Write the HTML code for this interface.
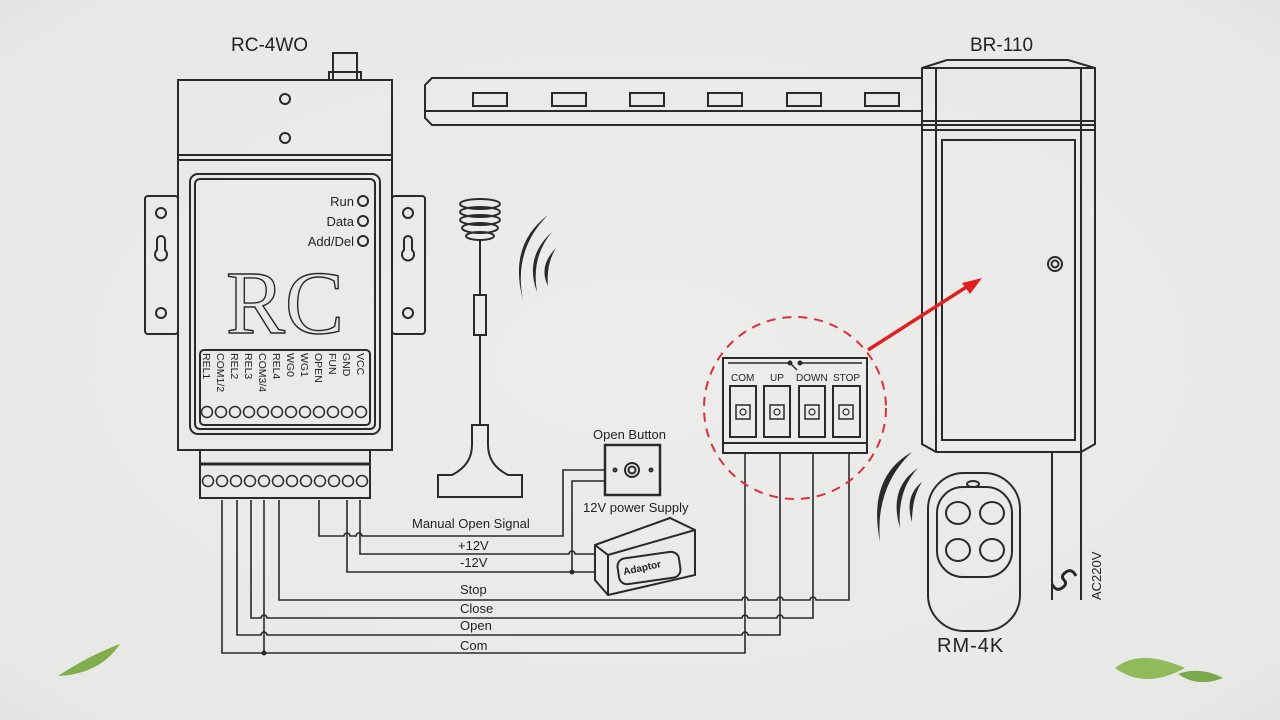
<!DOCTYPE html>
<html><head><meta charset="utf-8"><style>
html,body{margin:0;padding:0;background:#e9e9e7;}
svg{display:block;font-family:"Liberation Sans",Arial,sans-serif;}
</style></head><body>
<svg width="1280" height="720" viewBox="0 0 1280 720" xmlns="http://www.w3.org/2000/svg">
<defs>
<radialGradient id="bg" cx="50%" cy="50%" r="80%">
<stop offset="0" stop-color="#ececea"/><stop offset="0.8" stop-color="#e8e8e6"/><stop offset="1" stop-color="#dcdcda"/>
</radialGradient>
</defs>
<rect width="1280" height="720" fill="url(#bg)"/>
<g fill="none" stroke="#2a2a2a" stroke-width="2">
<rect x="333" y="53" width="24" height="27"/>
<rect x="329" y="72" width="32" height="8"/>
<rect x="178" y="80" width="214" height="75"/>
<line x1="178" y1="160" x2="392" y2="160"/>
<rect x="178" y="155" width="214" height="295"/>
<rect x="145" y="196" width="33" height="138" rx="3"/>
<rect x="392" y="196" width="33" height="138" rx="3"/>
<circle cx="161" cy="213" r="5"/><circle cx="161" cy="313" r="5"/>
<circle cx="408" cy="213" r="5"/><circle cx="408" cy="313" r="5"/>
<path d="M157 240 a4 4 0 0 1 8 0 v10 a6 6 0 1 1 -8 0z"/>
<path d="M404 240 a4 4 0 0 1 8 0 v10 a6 6 0 1 1 -8 0z"/>
<rect x="190" y="174" width="190" height="260" rx="8"/>
<rect x="195" y="179" width="180" height="250" rx="5"/>
<rect x="200" y="350" width="170" height="75" rx="4"/>
<rect x="200" y="450" width="170" height="48"/>
<line x1="200" y1="464" x2="370" y2="464" stroke-width="3"/>
<circle cx="285" cy="99" r="5"/><circle cx="285" cy="138" r="5"/>
<circle cx="363" cy="201" r="5"/><circle cx="363" cy="221" r="5"/><circle cx="363" cy="241" r="5"/>
<g stroke-width="1.5">
<circle cx="207" cy="412" r="5.5"/><circle cx="221" cy="412" r="5.5"/><circle cx="235" cy="412" r="5.5"/><circle cx="249" cy="412" r="5.5"/><circle cx="263" cy="412" r="5.5"/><circle cx="277" cy="412" r="5.5"/><circle cx="291" cy="412" r="5.5"/><circle cx="305" cy="412" r="5.5"/><circle cx="319" cy="412" r="5.5"/><circle cx="333" cy="412" r="5.5"/><circle cx="347" cy="412" r="5.5"/><circle cx="361" cy="412" r="5.5"/>
<circle cx="208" cy="481" r="5.5"/><circle cx="222" cy="481" r="5.5"/><circle cx="236" cy="481" r="5.5"/><circle cx="250" cy="481" r="5.5"/><circle cx="264" cy="481" r="5.5"/><circle cx="278" cy="481" r="5.5"/><circle cx="292" cy="481" r="5.5"/><circle cx="306" cy="481" r="5.5"/><circle cx="320" cy="481" r="5.5"/><circle cx="334" cy="481" r="5.5"/><circle cx="348" cy="481" r="5.5"/><circle cx="362" cy="481" r="5.5"/>
</g>
<ellipse cx="480" cy="204" rx="20" ry="5"/><ellipse cx="480" cy="212" rx="20" ry="5"/><ellipse cx="480" cy="220" rx="20" ry="5"/><ellipse cx="480" cy="228" rx="18" ry="5"/><ellipse cx="480" cy="236" rx="14" ry="4"/>
<line x1="480" y1="240" x2="480" y2="295"/>
<rect x="474" y="295" width="12" height="40"/>
<line x1="480" y1="335" x2="480" y2="425"/>
<path d="M472 425 h16 v20 q0 20 20 30 h14 v22 h-84 v-22 h14 q20 -10 20 -30z"/>
<path d="M432 78 H922 V125 H432 L425 118 V85Z"/>
<line x1="425" y1="111" x2="922" y2="111"/>
<rect x="473" y="93" width="34" height="13"/><rect x="552" y="93" width="34" height="13"/><rect x="630" y="93" width="34" height="13"/><rect x="708" y="93" width="34" height="13"/><rect x="787" y="93" width="34" height="13"/><rect x="865" y="93" width="34" height="13"/>
<path d="M922 68 L947 60 H1068 L1095 68 V444 L1081 452 H936 L922 444Z"/>
<line x1="936" y1="68" x2="936" y2="452"/><line x1="1081" y1="68" x2="1081" y2="452"/>
<line x1="922" y1="68" x2="1095" y2="68"/>
<line x1="922" y1="121" x2="1095" y2="121"/><line x1="922" y1="125" x2="1095" y2="125"/><line x1="922" y1="130" x2="1095" y2="130"/>
<rect x="942" y="140" width="133" height="300"/>
<circle cx="1055" cy="264" r="7"/><circle cx="1055" cy="264" r="3.5"/>
<line x1="1052" y1="452" x2="1052" y2="600"/><line x1="1081" y1="452" x2="1081" y2="600"/>
<path d="M1076 576 q-4 -8 -10 -4 q-6 4 -2 8 q4 4 -2 8 q-6 4 -10 -4" stroke-width="3"/>
<rect x="723" y="358" width="144" height="95"/>
<line x1="723" y1="443" x2="867" y2="443"/>
<line x1="728" y1="363" x2="790" y2="363" stroke-width="1.5"/><line x1="800" y1="363" x2="862" y2="363" stroke-width="1.5"/><line x1="790" y1="363" x2="797" y2="370" stroke-width="1.5"/>
<rect x="730" y="386" width="26" height="51"/><rect x="764" y="386" width="26" height="51"/><rect x="799" y="386" width="26" height="51"/><rect x="833" y="386" width="27" height="51"/>
<rect x="736" y="405" width="14" height="14" stroke-width="1.5"/><rect x="770" y="405" width="14" height="14" stroke-width="1.5"/><rect x="805" y="405" width="14" height="14" stroke-width="1.5"/><rect x="839" y="405" width="14" height="14" stroke-width="1.5"/>
<circle cx="743" cy="412" r="3" stroke-width="1.2"/><circle cx="777" cy="412" r="3" stroke-width="1.2"/><circle cx="812" cy="412" r="3" stroke-width="1.2"/><circle cx="846" cy="412" r="3" stroke-width="1.2"/>
<rect x="928" y="473" width="92" height="158" rx="36"/>
<rect x="937" y="487" width="75" height="90" rx="26"/>
<ellipse cx="973" cy="484" rx="6" ry="3"/>
<ellipse cx="958" cy="513" rx="12" ry="11"/><ellipse cx="992" cy="513" rx="12" ry="11"/><ellipse cx="958" cy="550" rx="12" ry="11"/><ellipse cx="992" cy="550" rx="12" ry="11"/>
<rect x="605" y="445" width="55" height="50" stroke-width="2.5"/>
<circle cx="632" cy="470" r="7"/><circle cx="632" cy="470" r="3.5"/><circle cx="615" cy="470" r="1.5"/><circle cx="651" cy="470" r="1.5"/>
<path d="M595 545 L670 518 L695 530 V575 L608 595 L595 580Z"/>
<path d="M595 545 L608 555 L695 530 M608 555 V595"/>
<rect x="618" y="555" width="62" height="26" rx="8" transform="rotate(-8 649 568)"/>
</g>
<g fill="none" stroke="#2a2a2a" stroke-width="1.6">
<path d="M319 500 V536 H344 a3 3 0 0 1 6 0 H356 a3 3 0 0 1 6 0 H563 V470 H605"/>
<path d="M360 500 V554 H569 a3 3 0 0 1 6 0 H595"/>
<path d="M347 500 V572 H595"/>
<path d="M572 572 V481 H605"/>
<path d="M279 500 V600 H742 a3 3 0 0 1 6 0 H777 a3 3 0 0 1 6 0 H810 a3 3 0 0 1 6 0 H849 V453"/>
<path d="M251 500 V618 H261 a3 3 0 0 1 6 0 H742 a3 3 0 0 1 6 0 H777 a3 3 0 0 1 6 0 H813 V453"/>
<path d="M237 500 V635 H261 a3 3 0 0 1 6 0 H742 a3 3 0 0 1 6 0 H780 V453"/>
<path d="M222 500 V653 H745 V453"/>
<path d="M264 500 V653"/>
</g>
<circle cx="264" cy="653" r="2.5" fill="#2a2a2a"/><circle cx="572" cy="572" r="2.5" fill="#2a2a2a"/>
<circle cx="790" cy="363" r="2.5" fill="#2a2a2a"/><circle cx="800" cy="363" r="2.5" fill="#2a2a2a"/>
<g fill="#2a2a2a">
<path d="M548 215 q-40 30 -25 85 q-10 -50 25 -85z"/>
<path d="M552 232 q-28 25 -15 60 q-6 -35 15 -60z"/>
<path d="M556 248 q-18 18 -8 38 q-2 -22 8 -38z"/>
<path d="M912 452 q-45 25 -32 90 q-5 -55 32 -90z"/>
<path d="M918 468 q-30 20 -18 60 q-3 -38 18 -60z"/>
<path d="M922 482 q-18 14 -10 40 q0 -25 10 -40z"/>
</g>
<circle cx="795" cy="408" r="91" fill="none" stroke="#d8323a" stroke-width="2" stroke-dasharray="9 7"/>
<line x1="868" y1="350" x2="968" y2="286" stroke="#e02020" stroke-width="3.5"/>
<path d="M982 278 L962 283 L970 294Z" fill="#e02020"/>
<text x="226" y="330" font-family="Liberation Serif,serif" font-size="82" fill="#e8e8e6" stroke="#2a2a2a" stroke-width="1.3" textLength="118" lengthAdjust="spacingAndGlyphs" transform="translate(0 -30) scale(1 1.1)">RC</text>
<g fill="#222">
<text x="231" y="51" font-size="19">RC-4WO</text>
<text x="970" y="51" font-size="19">BR-110</text>
<text x="937" y="652" font-size="20" letter-spacing="1">RM-4K</text>
<text x="354" y="206" font-size="13" text-anchor="end">Run</text>
<text x="354" y="226" font-size="13" text-anchor="end">Data</text>
<text x="354" y="246" font-size="13" text-anchor="end">Add/Del</text>
<text x="593" y="439" font-size="13">Open Button</text>
<text x="583" y="512" font-size="13">12V power Supply</text>
<text x="412" y="528" font-size="13">Manual Open Signal</text>
<text x="458" y="550" font-size="13">+12V</text>
<text x="460" y="567" font-size="13">-12V</text>
<text x="460" y="594" font-size="13">Stop</text>
<text x="460" y="613" font-size="13">Close</text>
<text x="460" y="630" font-size="13">Open</text>
<text x="460" y="650" font-size="13">Com</text>
<text x="731" y="381" font-size="10">COM</text>
<text x="770" y="381" font-size="10">UP</text>
<text x="796" y="381" font-size="10">DOWN</text>
<text x="833" y="381" font-size="10">STOP</text>
<text font-size="13" transform="translate(1101 600) rotate(-90)">AC220V</text>
<text font-size="10" transform="translate(624 575) rotate(-12)" font-weight="bold">Adaptor</text>
<g font-size="10.5">
<text transform="translate(203 353) rotate(90)">REL1</text>
<text transform="translate(217 353) rotate(90)">COM1/2</text>
<text transform="translate(231 353) rotate(90)">REL2</text>
<text transform="translate(245 353) rotate(90)">REL3</text>
<text transform="translate(259 353) rotate(90)">COM3/4</text>
<text transform="translate(273 353) rotate(90)">REL4</text>
<text transform="translate(287 353) rotate(90)">WG0</text>
<text transform="translate(301 353) rotate(90)">WG1</text>
<text transform="translate(315 353) rotate(90)">OPEN</text>
<text transform="translate(329 353) rotate(90)">FUN</text>
<text transform="translate(343 353) rotate(90)">GND</text>
<text transform="translate(357 353) rotate(90)">VCC</text>
</g>
</g>
<path d="M58 676 q30 -20 62 -32 q-20 30 -62 32z" fill="#7fae4a"/>
<path d="M1115 668 q25 -20 70 0 q-40 22 -70 0z" fill="#8fbb5a"/>
<path d="M1178 674 q22 -8 45 4 q-25 10 -45 -4z" fill="#7aa84a"/>
</svg>
</body></html>
